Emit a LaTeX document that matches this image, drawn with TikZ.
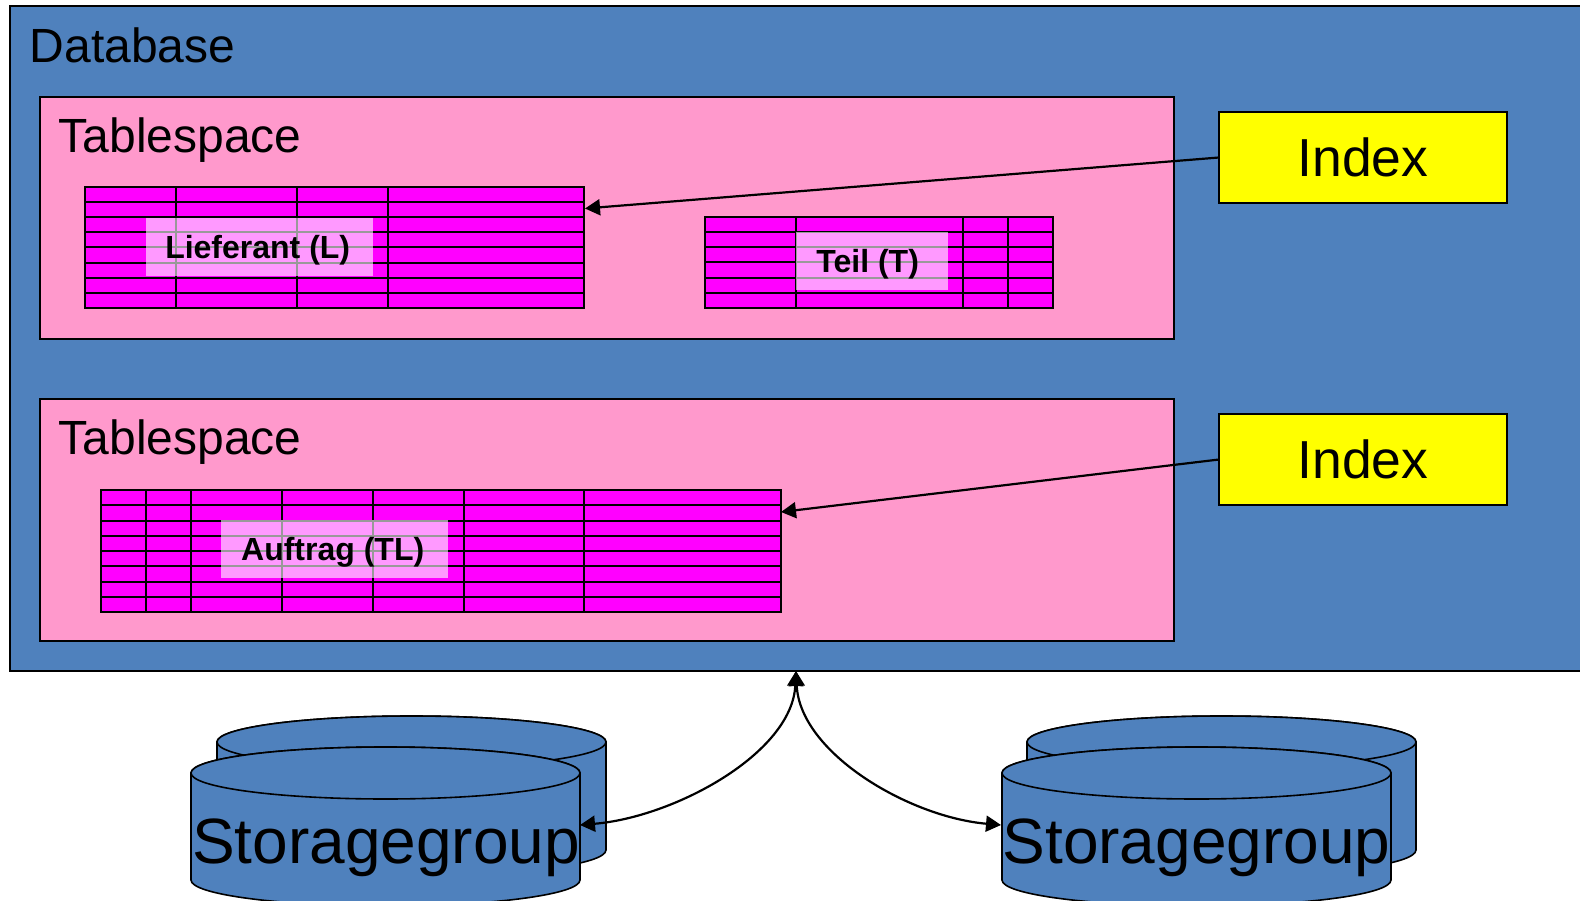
\documentclass[tikz,border=0pt]{standalone}
\usepackage{fontspec}
\setmainfont{Liberation Sans}
\usetikzlibrary{arrows.meta}
\definecolor{dbblue}{HTML}{4F81BD}
\definecolor{tspink}{HTML}{FF99CC}
\definecolor{tblmag}{HTML}{FF00FF}
\definecolor{idxyel}{HTML}{FFFF00}
\tikzset{
  x=1pt,y=1pt,
  boxed/.style={draw=black,line width=1.6pt,inner sep=0pt,outer sep=0pt},
  dbbox/.style={boxed,fill=dbblue,anchor=north west,minimum width=1572pt,minimum height=665pt},
  tsbox/.style={boxed,fill=tspink,anchor=north west,minimum width=1134pt,minimum height=242pt},
  idxbox/.style={boxed,fill=idxyel,anchor=north west,minimum width=288pt,minimum height=91pt,font=\fontsize{53.5}{56}\selectfont},
  tblbox/.style={boxed,fill=tblmag,anchor=north west,line width=2pt},
  tblline/.style={draw=black,line width=2pt},
  tbllabel/.style={fill=white,fill opacity=0.6,text opacity=1,inner sep=0pt,anchor=north west,font=\fontsize{32}{34}\selectfont\bfseries},
  bigtxt/.style={anchor=base west,inner sep=0pt,font=\fontsize{48}{50}\selectfont},
  sgtxt/.style={anchor=base,inner sep=0pt,font=\fontsize{64}{66}\selectfont},
  cyl/.style={draw=black,line width=1.6pt,fill=dbblue},
  body/.style={inner sep=0pt,outer sep=0pt,minimum width=389pt,minimum height=110pt},
  conn/.style={draw=black,line width=2.2pt,{Triangle[length=15pt,width=16pt]}-{Triangle[length=15pt,width=16pt]}},
  idxarrow/.style={draw=black,line width=2.2pt,-{Triangle[length=15pt,width=16pt]}}
}
% x-left, x-right, y-top-centre, y-bottom-centre (all as page coordinates, y down)
\newcommand{\cylpath}[4]{%
  \pgfmathsetmacro{\rx}{(#2-#1)/2}%
  \pgfmathsetmacro{\mx}{(#2+#1)/2}%
  \path[cyl] (#1,-#3) -- (#1,-#4) arc[start angle=180,end angle=360,x radius=\rx pt,y radius=26pt] -- (#2,-#3) arc[start angle=0,end angle=180,x radius=\rx pt,y radius=26pt] -- cycle;
  \path[cyl] (\mx,-#3) ellipse[x radius=\rx pt,y radius=26pt];
}
\newcommand{\tgrid}[6]{% x0,y0,x1,y1,rows,columns
  \pgfmathsetmacro{\rowh}{(#4-#2)/#5}%
  \pgfmathtruncatemacro{\lastrow}{#5-1}%
  \foreach \r in {1,...,\lastrow}{\draw[tblline] (#1,{-#2-\r*\rowh}) -- (#3,{-#2-\r*\rowh});}
  \foreach \c in {#6}{\draw[tblline] (\c,-#2) -- (\c,-#4);}
}
\newcommand{\labtxt}[2]{\raisebox{-11.5pt}[0pt][0pt]{\hspace*{#1}#2}}
\begin{document}
\begin{tikzpicture}
\clip (0,0) rectangle (1580,-901);
\fill[white] (0,0) rectangle (1580,-901);
% database
\node[dbbox] (db) at (10,-6) {};
\node[bigtxt] (dbtxt) at (29.5,-63) {Database};
% tablespaces
\node[tsbox] (ts1) at (40,-97) {};
\node[bigtxt] (ts1txt) at (58.5,-153) {Tablespace};
\node[tsbox] (ts2) at (40,-399) {};
\node[bigtxt] (ts2txt) at (58.5,-454.5) {Tablespace};
% index boxes
\node[idxbox] (ix1) at (1219,-112) {Index};
\node[idxbox] (ix2) at (1219,-414) {Index};
% table L
\node[tblbox,minimum width=499pt,minimum height=121pt] (tL) at (85,-187) {};
\tgrid{85}{187}{584}{308}{8}{176,297,388}
\node[tbllabel,minimum width=227pt,minimum height=58pt] (lL) at (146,-218) {\labtxt{-4pt}{Lieferant (L)}};
% table T
\node[tblbox,minimum width=348pt,minimum height=91pt] (tT) at (705,-217) {};
\tgrid{705}{217}{1053}{308}{6}{796,963,1008}
\node[tbllabel,minimum width=152pt,minimum height=58pt] (lT) at (796,-232) {\labtxt{-9pt}{Teil (T)}};
% table TL
\node[tblbox,minimum width=680.5pt,minimum height=122pt] (tA) at (100.5,-490) {};
\tgrid{100.5}{490}{781}{612}{8}{146,191,282,373,463.5,584}
\node[tbllabel,minimum width=227pt,minimum height=58pt] (lA) at (221,-520) {\labtxt{-4pt}{Auftrag (TL)}};
% index arrows
\coordinate (aL) at (585,-208.5);
\coordinate (aA) at (781,-512);
\draw[idxarrow] (ix1.west) -- (aL);
\draw[idxarrow] (ix2.west) -- (aA);
% storage groups
\cylpath{217}{606}{742}{850}
\cylpath{191}{580}{773}{880}
\node[body] (sgLbody) at (385.5,-825) {};
\node[sgtxt] (sgL) at (386,-863) {Storagegroup};
\cylpath{1027}{1416}{742}{850}
\cylpath{1002}{1391}{773}{880}
\node[body] (sgRbody) at (1195.5,-825) {};
\node[sgtxt] (sgR) at (1196.5,-863) {Storagegroup};
% connectors
\draw[conn] (db.south) .. controls +(-4,-82) and +(95,8) .. (sgLbody.east);
\draw[conn] (db.south) .. controls +(4,-82) and +(-92,8) .. (sgRbody.west);
\end{tikzpicture}
\end{document}
